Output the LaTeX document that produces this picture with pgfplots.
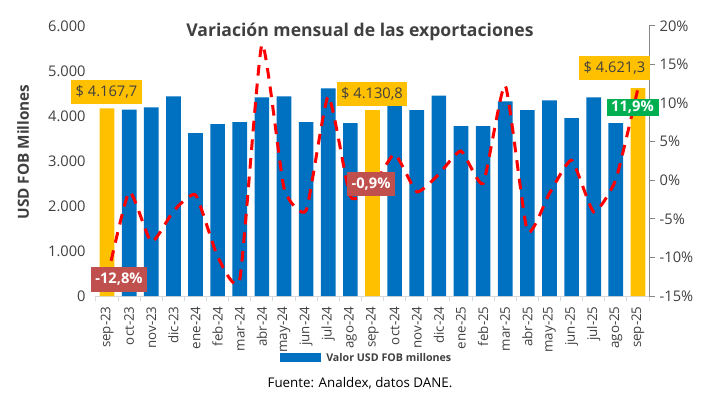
\documentclass[border=0pt]{standalone}
\usepackage{fontspec}
\setmainfont{Open Sans}
\usepackage{pgfplots}
\pgfplotsset{compat=1.18}
\definecolor{barblue}{HTML}{0070C0}
\definecolor{baryel}{HTML}{FFC000}
\definecolor{lbred}{HTML}{C0504D}
\definecolor{lbgreen}{HTML}{00B050}
\definecolor{textgray}{HTML}{404040}
\definecolor{gridgray}{HTML}{D9D9D9}
\definecolor{axisgray}{HTML}{868686}
\begin{document}
\begin{tikzpicture}
\path[use as bounding box] (-72pt,-75pt) rectangle (468pt,222pt);
\begin{axis}[
  at={(0,0)}, anchor=south west, scale only axis,
  width=414.75pt, height=202.5pt,
  xmin=-0.5, xmax=24.5, ymin=0, ymax=6000,
  ytick={0,1000,...,6000},
  axis x line*=bottom, axis y line*=left,
  y axis line style={draw=none},
  x axis line style={draw=gridgray, line width=0.75pt},
  xtick={0,...,24},
  xticklabels={sep-23,oct-23,nov-23,dic-23,ene-24,feb-24,mar-24,abr-24,may-24,jun-24,jul-24,ago-24,sep-24,oct-24,nov-24,dic-24,ene-25,feb-25,mar-25,abr-25,may-25,jun-25,jul-25,ago-25,sep-25},
  major x tick style={draw=none},
  minor xtick={-0.5,0.5,...,24.5},
  minor x tick style={draw=gridgray, line width=0.75pt},
  minor tick length=3.75pt, tick align=outside,
  ytick style={draw=none},
  xticklabel style={rotate=90, anchor=east, font=\fontsize{10}{12}\selectfont, text=textgray},
  yticklabel style={font=\fontsize{11}{13}\selectfont, text=textgray},
  /pgf/number format/use comma,
  /pgf/number format/1000 sep={.},
  /pgf/number format/assume math mode=true,
  clip=false,
]
\addplot[ybar, bar width=11pt, bar shift=0pt, fill=barblue, draw=none] coordinates {
(1,4143) (2,4194) (3,4437) (4,3620) (5,3819) (6,3863) (7,4415) (8,4437) (9,3863) (10,4614) (11,3841)
(13,4284) (14,4128) (15,4452) (16,3775) (17,3775) (18,4327) (19,4128) (20,4349) (21,3951) (22,4415) (23,3841)
};
\addplot[ybar, bar width=11pt, bar shift=0pt, fill=baryel, draw=none] coordinates {
(0,4167.7) (12,4130.8) (24,4621.3)
};
\end{axis}
\begin{axis}[
  at={(0,0)}, anchor=south west, scale only axis,
  width=414.75pt, height=202.5pt,
  xmin=-0.5, xmax=24.5, ymin=-15, ymax=20,
  ytick={-15,-10,...,20},
  axis y line*=right, axis x line=none,
  y axis line style={draw=axisgray, line width=0.75pt},
  ytick style={draw=axisgray, line width=0.75pt},
  major tick length=4.5pt, tick align=outside,
  yticklabel={\pgfmathprintnumber{\tick}\%},
  yticklabel style={font=\fontsize{11}{13}\selectfont, text=textgray},
  /pgf/number format/assume math mode=true,
  clip=false,
]
\addplot[red, line width=2.25pt, dash pattern=on 8pt off 6pt, smooth, tension=0.3] coordinates {
(0,-12.8) (1,-1.5) (2,-8.0) (3,-4.0) (4,-1.9) (5,-9.9) (6,-12.8) (7,17.6) (8,-1.0) (9,-3.9) (10,10.9) (11,-2.1)
(12,-0.9) (13,3.4) (14,-1.5) (15,0.8) (16,3.8) (17,-0.4) (18,12.3) (19,-6.6) (20,-1.7) (21,2.6) (22,-4.1) (23,0.1) (24,11.9)
};
\end{axis}
% labels
\node[fill=baryel, text=textgray, minimum width=53pt, minimum height=18pt, inner sep=0pt, font=\fontsize{11}{13}\selectfont] at ({(106.5-96)*0.75pt},{(296-92)*0.75pt}) {\$ 4.167,7};
\node[fill=baryel, text=textgray, minimum width=53pt, minimum height=18pt, inner sep=0pt, font=\fontsize{11}{13}\selectfont] at ({(372-96)*0.75pt},{(296-94)*0.75pt}) {\$ 4.130,8};
\node[fill=baryel, text=textgray, minimum width=53pt, minimum height=18pt, inner sep=0pt, font=\fontsize{11}{13}\selectfont] at ({(614.5-96)*0.75pt},{(296-68)*0.75pt}) {\$ 4.621,3};
\node[fill=lbred, text=white, minimum width=42pt, minimum height=18.75pt, inner sep=0pt, font=\bfseries\fontsize{11}{13}\selectfont] at ({(119-96)*0.75pt},{(296-279.5)*0.75pt}) {-12,8\%};
\node[fill=lbred, text=white, minimum width=35.5pt, minimum height=17.5pt, inner sep=0pt, font=\bfseries\fontsize{11}{13}\selectfont] at ({(371-96)*0.75pt},{(296-184)*0.75pt}) {-0,9\%};
\node[fill=lbgreen, text=white, minimum width=39pt, minimum height=13pt, inner sep=0pt, font=\bfseries\fontsize{11}{13}\selectfont] at ({(632.5-96)*0.75pt},{(296-107.5)*0.75pt}) {11,9\%};
% title
\node[text=textgray, font=\bfseries\fontsize{13.2}{15}\selectfont] at ({(360-96)*0.75pt},{(296-32)*0.75pt}) {Variación mensual de las exportaciones};
% y label
\node[rotate=90, text=textgray, font=\bfseries\fontsize{11.5}{13}\selectfont] at ({(23-96)*0.75pt},{(296-152)*0.75pt}) {USD FOB Millones};
% legend
\fill[barblue] ({(280-96)*0.75pt},{(296-352.7)*0.75pt}) rectangle ({(321-96)*0.75pt},{(296-361.7)*0.75pt});
\node[anchor=west, inner sep=0pt, text=textgray, font=\bfseries\fontsize{8}{9}\selectfont] at ({(326-96)*0.75pt},{(296-357)*0.75pt}) {Valor USD FOB millones};
% source
\node[text=black, font=\fontsize{10}{12}\selectfont] at ({(360-96)*0.75pt},{(296-383)*0.75pt}) {Fuente: Analdex, datos DANE.};
\end{tikzpicture}
\end{document}
